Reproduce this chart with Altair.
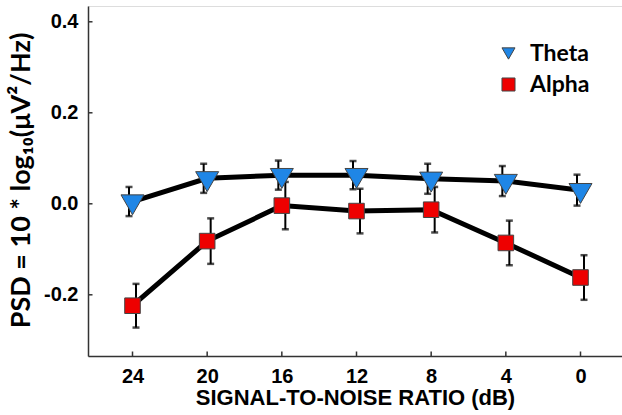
import altair as alt
import pandas as pd

# ---- data ----
snr = [24, 20, 16, 12, 8, 4, 0]
theta = [0.005, 0.056, 0.063, 0.063, 0.055, 0.050, 0.030]
theta_err = [0.032, 0.032, 0.032, 0.031, 0.033, 0.033, 0.034]
alpha = [-0.224, -0.082, -0.004, -0.016, -0.013, -0.086, -0.162]
alpha_err = [0.048, 0.050, 0.052, 0.049, 0.050, 0.049, 0.049]
bands = ["Theta", "Alpha"]
x_ticks = [24, 20, 16, 12, 8, 4, 0]
y_ticks = [-0.2, 0.0, 0.2, 0.4]

rows = []
for s, v, e in zip(snr, theta, theta_err):
    rows.append({"snr": s, "psd": v, "lo": v - e, "hi": v + e, "band": "Theta"})
for s, v, e in zip(snr, alpha, alpha_err):
    rows.append({"snr": s, "psd": v, "lo": v - e, "hi": v + e, "band": "Alpha"})
df = pd.DataFrame(rows)
df_t = df[df.band == "Theta"]
df_a = df[df.band == "Alpha"]

ARIAL = "Liberation Sans, Arial, sans-serif"
CALIBRI = "Lato, Carlito, sans-serif"

xs = alt.Scale(domain=[-2.223, 26.384], reverse=True, nice=False, zero=False)
ys = alt.Scale(domain=[-0.3345, 0.4347], nice=False, zero=False)

x_enc = alt.X("snr:Q", scale=xs,
              axis=alt.Axis(values=x_ticks, ticks=False, grid=False,
                            labelFont=ARIAL, labelFontWeight="bold", labelFontSize=20,
                            labelColor="black", labelPadding=10,
                            domainColor="#333333", domainWidth=1.5,
                            title="SIGNAL-TO-NOISE RATIO (dB)", titleFont=ARIAL,
                            titleFontWeight="bold", titleFontSize=22, titleColor="black",
                            titlePadding=1))
y_enc = alt.Y("psd:Q", scale=ys,
              axis=alt.Axis(values=y_ticks, ticks=False, grid=False,
                            labelExpr="replace(format(datum.value, '.1f'), '\u2212', '-')",
                            labelFont=ARIAL, labelFontWeight="bold", labelFontSize=20,
                            labelColor="black", labelPadding=10,
                            domainColor="#333333", domainWidth=1.5,
                            title="PSD = 10 * log\u2081\u2080(\u03bcV\u00b2/Hz)",
                            titleFont=CALIBRI, titleFontWeight="bold", titleFontSize=27,
                            titleColor="black", titleX=-67, titleY=174,
                            titleBaseline="middle", titleAlign="center"))

color_scale = alt.Scale(domain=bands, range=["#1f86e6", "#ee0000"])
shape_scale = alt.Scale(domain=bands, range=["triangle-down", "square"])
legend = alt.Legend(title=None, orient="none", legendX=409, legendY=36,
                    symbolSize=170, symbolStrokeColor="#444444", symbolStrokeWidth=1,
                    labelFont=CALIBRI, labelFontWeight="bold", labelFontSize=23,
                    labelColor="black", labelOffset=10, rowPadding=7, padding=0)

base = alt.Chart(df)

lines = base.mark_line(color="black", strokeWidth=5).encode(
    x=x_enc, y=y_enc, detail="band:N")

def bars(d, off):
    b = alt.Chart(d)
    r = b.mark_rule(color="black", strokeWidth=2, xOffset=off).encode(
        x="snr:Q", y="lo:Q", y2="hi:Q")
    c1 = b.mark_tick(color="black", orient="horizontal", size=7, thickness=2.5,
                     xOffset=off).encode(x="snr:Q", y="lo:Q")
    c2 = b.mark_tick(color="black", orient="horizontal", size=7, thickness=2.5,
                     xOffset=off).encode(x="snr:Q", y="hi:Q")
    return r + c1 + c2

alpha_pts = alt.Chart(df_a).mark_point(filled=True, opacity=1, size=243,
                                       stroke="#444444", strokeWidth=1).encode(
    x="snr:Q", y="psd:Q",
    color=alt.Color("band:N", scale=color_scale, legend=legend),
    shape=alt.Shape("band:N", scale=shape_scale, legend=legend))
theta_pts = alt.Chart(df_t).mark_point(filled=True, opacity=1, size=529, yOffset=3.3,
                                       stroke="#444444", strokeWidth=1).encode(
    x="snr:Q", y="psd:Q",
    color=alt.Color("band:N", scale=color_scale, legend=legend),
    shape=alt.Shape("band:N", scale=shape_scale, legend=legend))

xt = alt.Chart(pd.DataFrame({"t": x_ticks})).mark_rule(color="#333333", strokeWidth=1.5).encode(
    x="t:Q", y=alt.value(350), y2=alt.value(345.5))
yt = alt.Chart(pd.DataFrame({"t": y_ticks})).mark_rule(color="#333333", strokeWidth=1.5).encode(
    y="t:Q", x=alt.value(0), x2=alt.value(4.5))

chart = alt.layer(
    lines, bars(df_t, -3.5), bars(df_a, 3.5), alpha_pts, theta_pts, xt, yt
).properties(
    width=534, height=350, autosize="none",
    padding={"left": 88, "top": 6, "right": 0, "bottom": 59},
).configure_view(stroke=None).configure(background="white")

chart.save("out.html", embed_options={"renderer": "svg", "actions": False})
